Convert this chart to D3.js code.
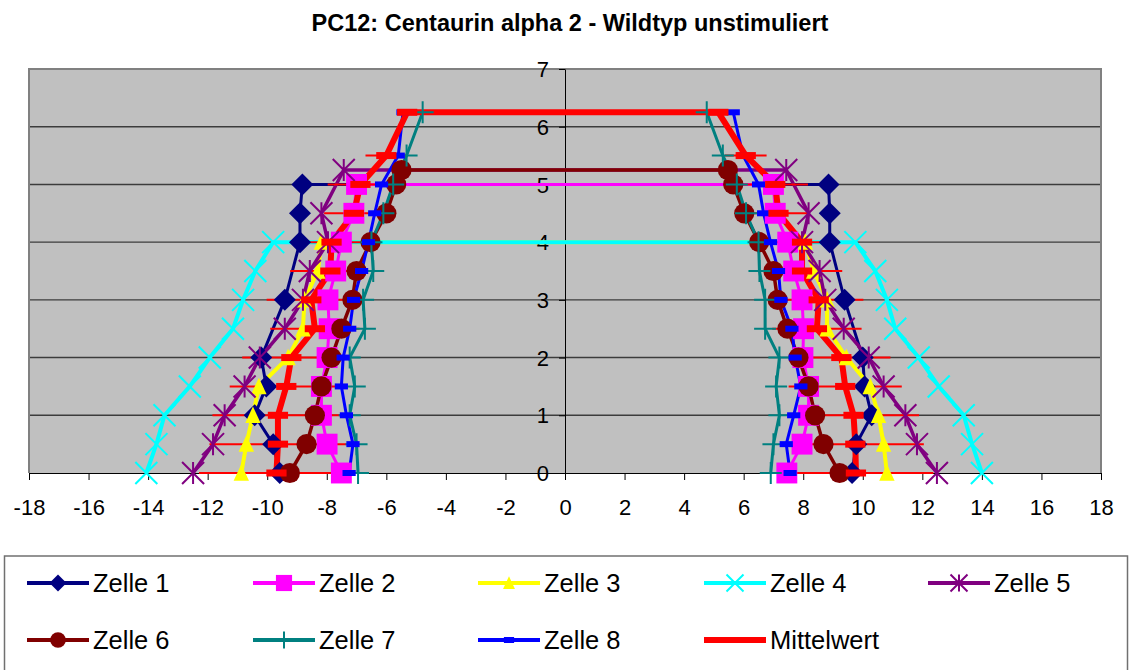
<!DOCTYPE html>
<html>
<head>
<meta charset="utf-8">
<script src="https://cdn.jsdelivr.net/npm/d3@7"></script>
<style>
  html, body { margin: 0; padding: 0; background: #fff; }
  svg { display: block; font-family: "Liberation Sans", Arial, sans-serif; }
</style>
</head>
<body>
<svg id="chart" width="1132" height="670"></svg>
<script>
// Axis ticks
const xTicks = [-18, -16, -14, -12, -10, -8, -6, -4, -2, 0, 2, 4, 6, 8, 10, 12, 14, 16, 18];
const yTicks = [0, 1, 2, 3, 4, 5, 6, 7];

// Cell outlines: height levels and left / right edge positions
const zelle1Y     = [0, 0.5, 1, 1.5, 2, 3, 4, 4.5, 5];
const zelle1Left  = [-9.58, -9.8, -10.42, -10.03, -10.2, -9.41, -8.9, -8.9, -8.82];
const zelle1Right = [9.64, 9.78, 10.3, 10.06, 10.0, 9.39, 8.89, 8.89, 8.85];

const zelle2Y     = [0, 0.5, 1, 1.5, 2, 2.5, 3, 3.5, 4, 4.5, 5];
const zelle2Left  = [-7.51, -7.99, -8.18, -8.18, -7.99, -7.92, -7.96, -7.7, -7.51, -7.09, -7.0];
const zelle2Right = [7.45, 7.96, 8.18, 8.18, 7.99, 8.01, 7.96, 7.68, 7.48, 7.06, 7.0];

const zelle3Y     = [0, 0.5, 1, 1.5, 2, 2.5, 3, 3.5, 4];
const zelle3Left  = [-10.87, -10.7, -10.48, -10.28, -9.3, -8.8, -8.75, -8.3, -8.18];
const zelle3Right = [10.81, 10.7, 10.53, 10.25, 9.45, 8.8, 8.8, 8.35, 8.07];

const zelle4Y     = [0, 0.5, 1, 1.5, 2, 2.5, 3, 3.5, 4];
const zelle4Left  = [-14.06, -13.72, -13.45, -12.6, -11.93, -11.15, -10.81, -10.4, -9.8];
const zelle4Right = [14.0, 13.67, 13.39, 12.55, 11.88, 11.09, 10.81, 10.42, 9.75];

const zelle5Y     = [0, 0.5, 1, 1.5, 2, 2.5, 3, 3.5, 4, 4.5, 5.25];
const zelle5Left  = [-12.49, -11.82, -11.43, -10.76, -10.25, -9.41, -8.8, -8.57, -7.96, -8.18, -7.43];
const zelle5Right = [12.49, 11.82, 11.43, 10.7, 10.2, 9.36, 8.74, 8.55, 7.96, 8.18, 7.43];

const zelle6Y     = [0, 0.5, 1, 1.5, 2, 2.5, 3, 3.5, 4, 4.5, 5, 5.25];
const zelle6Left  = [-9.24, -8.68, -8.4, -8.18, -7.84, -7.51, -7.14, -7.0, -6.53, -6.0, -5.67, -5.49];
const zelle6Right = [9.22, 8.68, 8.4, 8.18, 7.84, 7.47, 7.14, 7.0, 6.52, 6.02, 5.65, 5.47];

const zelle7Y     = [0, 0.5, 1, 1.5, 2, 2.5, 3, 3.5, 4, 4.5, 5, 5.5, 6.25];
const zelle7Left  = [-6.95, -7.0, -7.23, -7.06, -7.23, -6.72, -6.78, -6.44, -6.5, -6.1, -5.77, -5.32, -4.78];
const zelle7Right = [6.91, 7.0, 7.2, 7.09, 7.2, 6.72, 6.72, 6.53, 6.5, 6.08, 5.77, 5.3, 4.76];

const zelle8Y     = [0, 0.5, 1, 1.5, 2, 2.5, 3, 3.5, 4, 4.5, 5, 5.5, 6.25];
const zelle8Left  = [-7.25, -7.12, -7.34, -7.51, -7.45, -7.23, -7.1, -6.83, -6.6, -6.39, -6.16, -5.6, -5.44];
const zelle8Right = [7.56, 7.43, 7.68, 7.92, 7.73, 7.62, 7.25, 7.17, 6.9, 6.67, 6.5, 5.98, 5.65];

const mittelY     = [0, 0.5, 1, 1.5, 2, 2.5, 3, 3.5, 4, 4.5, 5, 5.5, 6.25];
const mittelLeft  = [-9.69, -9.64, -9.64, -9.36, -9.19, -8.4, -8.52, -7.88, -7.84, -7.09, -6.87, -6.0, -5.3];
const mittelRight = [9.77, 9.75, 9.69, 9.41, 9.28, 8.46, 8.52, 7.96, 7.96, 7.17, 7.06, 6.07, 5.15];
// standard deviation of the mean edge at each level (horizontal error bars)
const mittelErr   = [2.6, 2.3, 2.2, 1.9, 1.65, 1.5, 1.5, 1.35, 1.2, 1.0, 1.1, 0.7, 0];

const seriesNames = ["Zelle 1", "Zelle 2", "Zelle 3", "Zelle 4", "Zelle 5", "Zelle 6", "Zelle 7", "Zelle 8", "Mittelwert"];

const series = [
  { name: seriesNames[0], y: zelle1Y, l: zelle1Left, r: zelle1Right, color: "#000080", width: 3,   marker: "diamond" },
  { name: seriesNames[1], y: zelle2Y, l: zelle2Left, r: zelle2Right, color: "#FF00FF", width: 3,   marker: "square" },
  { name: seriesNames[2], y: zelle3Y, l: zelle3Left, r: zelle3Right, color: "#FFFF00", width: 4,   marker: "triangle" },
  { name: seriesNames[3], y: zelle4Y, l: zelle4Left, r: zelle4Right, color: "#00FFFF", width: 4,   marker: "x" },
  { name: seriesNames[4], y: zelle5Y, l: zelle5Left, r: zelle5Right, color: "#800080", width: 3.5, marker: "star" },
  { name: seriesNames[5], y: zelle6Y, l: zelle6Left, r: zelle6Right, color: "#800000", width: 3.5, marker: "circle" },
  { name: seriesNames[6], y: zelle7Y, l: zelle7Left, r: zelle7Right, color: "#008080", width: 3,   marker: "plus" },
  { name: seriesNames[7], y: zelle8Y, l: zelle8Left, r: zelle8Right, color: "#0000FF", width: 3,   marker: "smalldash" },
  { name: seriesNames[8], y: mittelY, l: mittelLeft, r: mittelRight, color: "#FF0000", width: 6,   marker: "dash", err: mittelErr }
];

// outline: up the left edge, across the top, down the right edge
series.forEach(s => {
  const left = s.y.map((yy, i) => ({ x: s.l[i], y: yy, e: s.err ? s.err[i] : 0 }));
  const right = s.y.map((yy, i) => ({ x: s.r[i], y: yy, e: s.err ? s.err[i] : 0 })).reverse();
  s.points = left.concat(right);
});

const svg = d3.select("#chart");
const font = '"Liberation Sans", Arial, sans-serif';

const x = d3.scaleLinear().domain([-18, 18]).range([29, 1101]);
const y = d3.scaleLinear().domain([0, 7]).range([473, 69]);

// title
svg.append("text")
  .attr("x", 570).attr("y", 31)
  .attr("text-anchor", "middle")
  .style("font-size", "23.5px").style("font-weight", "bold")
  .text("PC12: Centaurin alpha 2 - Wildtyp unstimuliert");

// plot area
svg.append("rect")
  .attr("x", x(-18)).attr("y", y(7))
  .attr("width", x(18) - x(-18)).attr("height", y(0) - y(7))
  .attr("fill", "#C0C0C0");

// horizontal gridlines
svg.append("g").selectAll("line")
  .data(yTicks.filter(d => d > 0 && d < 7))
  .join("line")
  .attr("x1", x(-18)).attr("x2", x(18))
  .attr("y1", d => y(d)).attr("y2", d => y(d))
  .attr("stroke", "#3c3c3c").attr("stroke-width", 1.4);

// plot border
svg.append("path")
  .attr("d", `M${x(-18)},${y(0)} V${y(7)} H${x(18)} V${y(0)}`)
  .attr("fill", "none").attr("stroke", "#808080").attr("stroke-width", 2);

// x axis
const xAxis = svg.append("g")
  .attr("transform", `translate(0,${y(0)})`)
  .call(d3.axisBottom(x).tickValues(xTicks).tickSize(7).tickSizeOuter(0).tickFormat(d => String(d)));
xAxis.select(".domain").attr("stroke", "#000").attr("stroke-width", 1.2);
xAxis.selectAll(".tick line").attr("stroke", "#000");
xAxis.selectAll("text")
  .attr("y", 42).attr("dy", 0)
  .style("font-size", "22px").style("font-family", font).attr("fill", "#000");

// y axis at x = 0
const yAxis = svg.append("g")
  .attr("transform", `translate(${x(0)},0)`)
  .call(d3.axisLeft(y).tickValues(yTicks).tickSize(6).tickSizeOuter(0).tickFormat(d => String(d)));
yAxis.select(".domain").attr("stroke", "#000").attr("stroke-width", 1);
yAxis.selectAll(".tick line").attr("stroke", "#000");
yAxis.selectAll("text")
  .attr("x", -16).attr("dy", "0.35em")
  .style("font-size", "22px").style("font-family", font).attr("fill", "#000");

// marker shapes
function drawMarker(g, type, color, sz) {
  const h = sz / 2;
  switch (type) {
    case "diamond":
      g.append("path").attr("d", `M0,${-h} L${h},0 L0,${h} L${-h},0 Z`).attr("fill", color);
      break;
    case "square":
      g.append("rect").attr("x", -h * 0.95).attr("y", -h * 0.95).attr("width", sz * 0.95).attr("height", sz * 0.95).attr("fill", color);
      break;
    case "triangle":
      g.append("path").attr("d", `M0,${-h * 0.8} L${h * 0.7},${h * 0.7} L${-h * 0.7},${h * 0.7} Z`).attr("fill", color);
      break;
    case "x":
      g.append("path").attr("d", `M${-h},${-h} L${h},${h} M${-h},${h} L${h},${-h}`)
        .attr("stroke", color).attr("stroke-width", 2).attr("fill", "none");
      break;
    case "star":
      g.append("path").attr("d", `M${-h},${-h} L${h},${h} M${-h},${h} L${h},${-h} M0,${-h} V${h}`)
        .attr("stroke", color).attr("stroke-width", 2).attr("fill", "none");
      break;
    case "circle":
      g.append("circle").attr("r", h * 0.92).attr("fill", color);
      break;
    case "plus":
      g.append("path").attr("d", `M${-h},0 H${h} M0,${-h} V${h}`)
        .attr("stroke", color).attr("stroke-width", 2).attr("fill", "none");
      break;
    case "smalldash":
      g.append("rect").attr("x", -sz * 0.3).attr("y", -3).attr("width", sz * 0.6).attr("height", 6).attr("fill", color);
      break;
    case "dash":
      g.append("rect").attr("x", -sz * 0.46).attr("y", -3.5).attr("width", sz * 0.92).attr("height", 7).attr("fill", color);
      break;
  }
}

const line = d3.line().x(d => x(d.x)).y(d => y(d.y));

// all outlines first
const linesG = svg.append("g");
series.forEach(s => {
  linesG.append("path")
    .attr("d", line(s.points))
    .attr("fill", "none")
    .attr("stroke", s.color)
    .attr("stroke-width", s.width)
    .attr("stroke-linejoin", "round");
});

// error bars of the mean
const errG = svg.append("g");
series.filter(s => s.err).forEach(s => {
  errG.selectAll(null)
    .data(s.points.filter(p => p.e > 0))
    .join("line")
    .attr("x1", p => x(p.x - p.e)).attr("x2", p => x(p.x + p.e))
    .attr("y1", p => y(p.y)).attr("y2", p => y(p.y))
    .attr("stroke", s.color).attr("stroke-width", 2);
});

// markers on top
const markG = svg.append("g");
series.forEach(s => {
  s.points.forEach(p => {
    const g = markG.append("g").attr("transform", `translate(${x(p.x)},${y(p.y)})`);
    drawMarker(g, s.marker, s.color, 22);
  });
});

// legend
svg.append("rect")
  .attr("x", 4.5).attr("y", 556).attr("width", 1123).attr("height", 140)
  .attr("fill", "#fff").attr("stroke", "#707070").attr("stroke-width", 1.5);

const legCols = [27, 253, 478, 704, 928];
const legRows = [583, 640];
series.forEach((s, i) => {
  const cx = legCols[i % 5], cy = legRows[Math.floor(i / 5)];
  const g = svg.append("g").attr("transform", `translate(${cx},${cy})`);
  g.append("line").attr("x1", 0).attr("x2", 62).attr("y1", 0).attr("y2", 0)
    .attr("stroke", s.color).attr("stroke-width", s.marker === "dash" ? 6 : 4);
  if (s.marker !== "dash") {
    const mg = g.append("g").attr("transform", "translate(31,0)");
    drawMarker(mg, s.marker, s.color, 17);
  }
  g.append("text").attr("x", 66).attr("y", 9)
    .style("font-size", "25.5px").attr("fill", "#000")
    .text(s.name);
});
</script>
</body>
</html>
